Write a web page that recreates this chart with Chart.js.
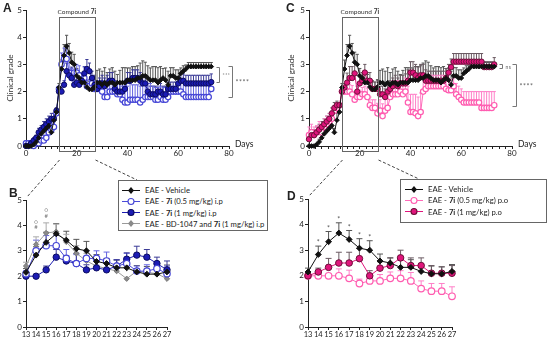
<!DOCTYPE html>
<html><head><meta charset="utf-8">
<script src="https://cdn.jsdelivr.net/npm/chart.js@4.4.1/dist/chart.umd.min.js"></script>
<style>
html,body{margin:0;padding:0;background:#fff;}
#wrap{position:relative;width:550px;height:340px;overflow:hidden;font-family:Lato,"Open Sans",sans-serif;color:#222;}
canvas.c{position:absolute;}
.t{position:absolute;white-space:nowrap;line-height:1;}
.lg{position:absolute;border:1px solid #666;background:#fff;box-sizing:border-box;}
.row{position:absolute;left:0;height:11px;font-size:7.7px;display:flex;align-items:center;white-space:nowrap;}
.row svg{margin-right:5px;}
.L{position:absolute;font-family:"Liberation Sans",Arial,sans-serif;font-weight:bold;font-size:12px;line-height:1;}
</style></head><body>
<div id="wrap">
<canvas id="cA" class="c" width="275" height="165" style="left:0;top:0;width:275px;height:165px"></canvas>
<canvas id="cC" class="c" width="275" height="165" style="left:275px;top:0;width:275px;height:165px"></canvas>
<canvas id="cB" class="c" width="275" height="170" style="left:0;top:170px;width:275px;height:170px"></canvas>
<canvas id="cD" class="c" width="275" height="170" style="left:275px;top:170px;width:275px;height:170px"></canvas>
<canvas id="ov" class="c" width="550" height="340" style="left:0;top:0;width:550px;height:340px;pointer-events:none"></canvas>
<div class="L" style="left:3px;top:2px">A</div>
<div class="L" style="left:9px;top:187px">B</div>
<div class="L" style="left:286px;top:2px">C</div>
<div class="L" style="left:287px;top:190px">D</div>
</div>
<script>
// ---------- DATA ----------
const daysAC = [0,1,2,3,4,5,6,7,8,9,10,11,12,13,14,15,16,17,18,19,20,21,22,23,24,25,26,27,28,29,30,31,32,33,34,35,36,37,38,39,40,41,42,43,44,45,46,47,48,49,50,51,52,53,54,55,56,57,58,59,60,61,62,63,64,65,66,67,68,69,70,71,72,73];
const daysBD = [13,14,15,16,17,18,19,20,21,22,23,24,25,26,27];

// EAE - Vehicle (mean, SEM)
const vehicle = [0,0,0,0.05,0.15,0.3,0.45,0.55,0.65,0.75,0.5,0.95,1.25, 2.15,2.83,3.33,3.67,3.42,3.08,3.0,2.58,2.5,2.33,2.33,2.17,2.08,2.08,2.17, 2.33,2.33,2.25,2.33,2.25,2.33,2.33,2.25,2.33,2.33,2.33,2.33, 2.42,2.42,2.42,2.42,2.5,2.5,2.58,2.58,2.5,2.42, 2.42,2.42,2.33,2.42,2.5,2.42,2.25,2.58,2.58,2.5, 2.5,2.67,2.75,2.83,2.92,2.92,2.92,2.92,2.92,2.92, 2.92,2.92,2.92,2.92];
const vehicleErr = [0,0,0,0.05,0.1,0.1,0.15,0.15,0.2,0.2,0.15,0.25,0.15, 0.15,0.33,0.4,0.4,0.35,0.37,0.37,0.27,0.2,0.3,0.3,0.25,0.3,0.27,0.27, 0.45,0.5,0.5,0.55,0.45,0.5,0.55,0.5,0.3,0.45,0.55,0.55, 0.45,0.45,0.5,0.5,0.45,0.55,0.55,0.5,0.45,0.45, 0.5,0.5,0.55,0.5,0.35,0.45,0.5,0.3,0.3,0.3, 0.3,0.2,0.2,0.15,0.15,0.15,0.15,0.15,0.15,0.15, 0.15,0.15,0.15,0.15];

// EAE - 7i (0.5 mg/kg) i.p
const ip05 = [0.1,0.1,0.1,0,0.1,0.1,0.2,0.2,0.3,0.5,0.6,0.7,1.2, 2.1,3.0,3.2,3.2,2.7,2.5,2.7,2.7,2.6,2.4,2.5,2.2,2.2,2.3,2.1, 2.1,2.1,2.0,1.8,1.8,2.0,2.0,2.0,1.9,1.9,1.7,1.6, 1.6,1.7,1.7,1.7,1.7,1.6,1.7,1.8,1.8,1.8, 1.8,1.7,1.7,1.8,1.7,1.7,1.8,2.0,2.0,2.0, 2.0,2.0,1.9,1.8,1.8,1.8,1.8,1.8,1.8,1.8, 1.8,1.8,1.8,2.1];
const ip05Err = [0.1,0.1,0.1,0,0.1,0.15,0.2,0.2,0.2,0.2,0.25,0.3,0.1, 0.1,0.42,0.4,0.4,0.35,0.35,0.3,0.3,0.35,0.25,0.4,0.2,0.25,0.2,0.3, 0.3,0.3,0.4,0.5,0.5,0.4,0.4,0.4,0.4,0.4,0.5,0.6, 0.6,0.6,0.55,0.55,0.55,0.6,0.55,0.5,0.5,0.5, 0.4,0.45,0.45,0.4,0.45,0.45,0.4,0.2,0.2,0.2, 0.3,0.3,0.4,0.5,0.5,0.5,0.5,0.5,0.5,0.5, 0.5,0.5,0.5,0.3];

// EAE - 7i (1 mg/kg) i.p
const ip1 = [0,0,0.1,0.2,0.3,0.5,0.6,0.7,0.8,0.9,1.0,1.0,1.3, 2.0,2.0,2.25,2.75,2.6,2.5,2.25,2.33,2.25,2.4,2.67,2.83,2.75,2.5,2.25, 2.1,2.2,2.3,2.2,2.3,2.4,2.4,2.1,2.0,2.0,2.0,2.1, 2.4,2.4,2.5,2.5,2.5,2.4,2.3,2.3,2.0,1.9, 1.9,1.9,2.0,2.0,1.9,1.9,2.1,2.1,2.1,2.1, 2.3,2.4,2.4,2.3,2.3,2.3,2.3,2.3,2.3,2.3, 2.3,2.3,2.3,2.35];
const ip1Err = [0,0,0.1,0.1,0.1,0.15,0.15,0.2,0.2,0.2,0.2,0.2,0.1, 0,0,0.15,0.3,0.2,0.4,0.2,0.3,0.3,0.25,0.25,0.35,0.3,0.25,0.35, 0.3,0.3,0.3,0.3,0.3,0.3,0.3,0.3,0.3,0.3,0.3,0.3, 0.3,0.3,0.3,0.3,0.3,0.3,0.3,0.3,0.3,0.3, 0.3,0.3,0.3,0.3,0.3,0.3,0.25,0.25,0.25,0.25, 0.25,0.25,0.25,0.3,0.3,0.3,0.3,0.3,0.3,0.3, 0.3,0.3,0.3,0.3];

// EAE - 7i (0.5 mg/kg) p.o
const po05 = [0.4,0.5,0.4,0.5,0.6,0.5,0.7,0.8,0.9,1.0,1.3,1.4,1.5, 2.0,2.0,2.0,2.0,1.9,1.7,1.8,1.8,1.9,1.9,1.8,1.5,1.4,1.4,1.2, 1.3,1.1,1.3,1.4,1.8,1.9,1.9,1.9,2.0,1.9,2.0,1.6, 1.25,1.25,1.2,1.1,1.25,2.0,2.1,2.2,2.2,2.2, 2.2,2.2,2.2,2.2,2.1,2.05,2.05,2.2,1.9,1.8, 1.7,1.6,1.6,1.6,1.6,1.6,1.6,1.6,1.4,1.4, 1.4,1.4,1.4,1.5];
const po05Err = [0.3,0.3,0.3,0.25,0.3,0.3,0.3,0.3,0.3,0.3,0.2,0.2,0.1, 0,0,0,0.27,0.32,0.17,0.17,0.25,0.25,0.3,0.33,0.3,0.3,0.3,0.37, 0.4,0.45,0.5,0.5,0.5,0.5,0.5,0.5,0.4,0.5,0.5,0.6, 0.65,0.65,0.7,0.7,0.7,0.5,0.5,0.4,0.4,0.4, 0.4,0.4,0.4,0.4,0.4,0.4,0.4,0.3,0.4,0.4, 0.4,0.4,0.4,0.4,0.4,0.4,0.4,0.4,0.6,0.6, 0.6,0.6,0.6,0.5];

// EAE - 7i (1 mg/kg) p.o
const po1 = [0.25,0.4,0.4,0.5,0.6,0.7,0.8,0.9,1.0,1.2,1.4,1.5,1.5, 2.0,2.15,2.33,2.5,2.5,2.67,2.0,2.3,2.4,2.7,2.4,2.4,2.1,2.1,2.1, 1.9,1.9,1.8,2.0,2.1,2.2,2.3,2.2,2.3,2.3,2.3,2.4, 2.7,2.7,2.6,2.5,2.6,2.6,2.4,2.4,2.4,2.4, 2.4,2.4,2.4,2.4,2.5,2.7,2.9,3.1,3.1,3.1, 3.1,3.1,3.1,3.1,3.1,3.1,3.1,3.1,3.1,2.9, 2.9,2.9,2.9,3.0];
const po1Err = [0.2,0.2,0.2,0.2,0.2,0.2,0.2,0.2,0.2,0.2,0.2,0.15,0.1, 0,0.15,0.35,0.42,0.42,0.4,0.2,0.25,0.3,0.3,0.3,0.3,0.3,0.25,0.3, 0.3,0.3,0.3,0.3,0.3,0.3,0.3,0.3,0.3,0.3,0.35,0.4, 0.4,0.4,0.4,0.4,0.4,0.4,0.4,0.35,0.35,0.35, 0.35,0.35,0.35,0.35,0.35,0.3,0.3,0.3,0.3,0.3, 0.3,0.3,0.3,0.3,0.3,0.3,0.3,0.3,0.3,0.2, 0.2,0.2,0.2,0.25];

// EAE - BD-1047 and 7i (1 mg/kg) i.p  (days 13-27)
const bd1047 = [2.4,3.25,3.7,3.75,3.35,2.9,2.6,2.4,2.3,2.2,1.9,2.2,2.15,2.1,1.9];
const bd1047Err = [0.15,0.3,0.4,0.3,0.3,0.3,0.3,0.3,0.2,0.2,0,0.1,0.1,0.1,0.1];

// significance marks
const sigB = [{d:14,v:4.15,t:'○'},{d:15,v:4.6,t:'○'},{d:14,v:3.92,t:'#'},{d:15,v:4.37,t:'#'}];
const sigD = [{d:14,v:3.32,t:'*'},{d:15,v:3.85,t:'*'},{d:16,v:4.2,t:'*'},{d:17,v:3.92,t:'*'},{d:18,v:3.58,t:'*'},{d:19,v:3.52,t:'*'}];
const boxDays = [13,27];
const boxTopValue = 4.75;
const bracketsA = [{xd:76,top:2.92,bot:2.35,t:'***',fs:5},{xd:81.2,top:2.95,bot:1.8,t:'****',fs:7}];
const bracketsC = [{xd:76,top:3.0,bot:2.85,t:'ns',fs:5},{xd:81.6,top:3.0,bot:1.48,t:'****',fs:7}];

// ---------- CHARTS ----------
const FONT = 'Lato, "Open Sans", sans-serif';
const sl = a => a.slice(13, 28);

const errorBars = {
  id: 'errorBars',
  beforeDatasetsDraw(chart, args, opts) {
    const ctx = chart.ctx, ys = chart.scales.y;
    chart.data.datasets.forEach((ds, di) => {
      if (!ds.errors) return;
      const meta = chart.getDatasetMeta(di);
      ctx.save();
      ctx.strokeStyle = ds.errColor || ds.borderColor;
      ctx.lineWidth = 1;
      meta.data.forEach((pt, i) => {
        const e = ds.errors[i];
        if (!e) return;
        const yt = ys.getPixelForValue(ds.data[i].y + e);
        ctx.beginPath();
        ctx.moveTo(pt.x, pt.y); ctx.lineTo(pt.x, yt);
        ctx.moveTo(pt.x - opts.cap, yt); ctx.lineTo(pt.x + opts.cap, yt);
        ctx.stroke();
      });
      ctx.restore();
    });
  }
};

const ST = {
  veh:  {borderColor:'#111', pointStyle:'rectRot', pointBackgroundColor:'#111', pointBorderColor:'#111', errColor:'#555'},
  ip05: {borderColor:'#4a4ad8', pointStyle:'circle', pointBackgroundColor:'#fff', pointBorderColor:'#4646d6', errColor:'#6464e0', pointBorderWidth:1.2},
  ip1:  {borderColor:'#1c1cb0', pointStyle:'circle', pointBackgroundColor:'#1c1cb4', pointBorderColor:'#0b0b60', errColor:'#3a3a96'},
  bd:   {borderColor:'#9a9a9a', pointStyle:'rectRot', pointBackgroundColor:'#8a8a8a', pointBorderColor:'#7a7a7a', errColor:'#aaa'},
  po05: {borderColor:'#ff6ab8', pointStyle:'circle', pointBackgroundColor:'#fff', pointBorderColor:'#ff5cb0', errColor:'#ff80c8', pointBorderWidth:1.2},
  po1:  {borderColor:'#e0157c', pointStyle:'circle', pointBackgroundColor:'#e0157c', pointBorderColor:'#6a1038', errColor:'#6a5a62'}
};

function ds(xs, ys, errs, st, r) {
  return Object.assign({
    data: xs.map((x, i) => ({x, y: ys[i]})), errors: errs, clip: false,
    borderWidth: 1, tension: 0, pointRadius: r
  }, st, {pointRadius: st.pointStyle === 'rectRot' ? r * 0.95 : r});
}

function scaleX(min, max, step, every, h, fs) {
  return {
    type: 'linear', min, max,
    ticks: {stepSize: step, autoSkip: false, maxRotation: 0, minRotation: 0, padding: 0, color: '#222',
      font: {family: FONT, size: fs},
      callback: v => (Math.abs(v / every - Math.round(v / every)) < 1e-6 ? v : '')},
    grid: {drawOnChartArea: false, drawTicks: true, tickLength: 3, color: '#222', lineWidth: 1},
    border: {color: '#222', width: 1},
    afterFit: s => { s.height = h; }
  };
}
function scaleY(w) {
  return {
    type: 'linear', min: 0, max: 5,
    ticks: {stepSize: 1, padding: 1, color: '#222', font: {family: FONT, size: 8}},
    grid: {drawOnChartArea: false, drawTicks: true, tickLength: 3, color: '#222', lineWidth: 1},
    border: {color: '#222', width: 1},
    afterFit: s => { s.width = w; }
  };
}
function mk(id, datasets, pad, yW, xs, cap) {
  return new Chart(document.getElementById(id), {
    type: 'line',
    data: {datasets},
    options: {
      responsive: false, animation: false, events: [],
      layout: {padding: pad},
      plugins: {legend: {display: false}, tooltip: {enabled: false}, errorBars: {cap}},
      scales: {x: xs, y: scaleY(yW)}
    },
    plugins: [errorBars]
  });
}

const chA = mk('cA', [
  ds(daysAC, vehicle, vehicleErr, ST.veh, 2.5),
  ds(daysAC, ip1, ip1Err, ST.ip1, 2.7),
  ds(daysAC, ip05, ip05Err, ST.ip05, 2.7)
], {left: 0, top: 10, right: 46, bottom: 0}, 26, scaleX(0, 80, 2.5, 20, 19, 8), 1.6);

const chC = mk('cC', [
  ds(daysAC, vehicle, vehicleErr, ST.veh, 2.5),
  ds(daysAC, po1, po1Err, ST.po1, 2.7),
  ds(daysAC, po05, po05Err, ST.po05, 2.7)
], {left: 8, top: 10, right: 38, bottom: 0}, 26, scaleX(0, 80, 2.5, 20, 19, 8), 1.6);

const chB = mk('cB', [
  ds(daysBD, sl(vehicle), sl(vehicleErr), ST.veh, 3.1),
  ds(daysBD, sl(ip05), sl(ip05Err), ST.ip05, 3.2),
  ds(daysBD, sl(ip1), sl(ip1Err), ST.ip1, 3.2),
  ds(daysBD, bd1047, bd1047Err, ST.bd, 2.8)
], {left: 0, top: 30, right: 108, bottom: 0}, 26, scaleX(13, 27, 1, 1, 13, 7.5), 3);

const chD = mk('cD', [
  ds(daysBD, sl(vehicle), sl(vehicleErr), ST.veh, 3.1),
  ds(daysBD, sl(po1), sl(po1Err), ST.po1, 3.3),
  ds(daysBD, sl(po05), sl(po05Err), ST.po05, 3.3)
], {left: 7, top: 29, right: 98, bottom: 0}, 26, scaleX(13, 27, 1, 1, 13, 7.5), 3);

// ---------- page-coordinate helpers ----------
function P(ch, L, T) {
  return {x: v => L + ch.scales.x.getPixelForValue(v), y: v => T + ch.scales.y.getPixelForValue(v)};
}
const pA = P(chA, 0, 0), pC = P(chC, 275, 0), pB = P(chB, 0, 170), pD = P(chD, 275, 170);
const wrap = document.getElementById('wrap');
function txt(s, x, y, css, tf) {
  const d = document.createElement('div');
  d.className = 't'; d.innerHTML = s;
  Object.assign(d.style, css || {});
  d.style.left = x + 'px'; d.style.top = y + 'px';
  d.style.transform = tf || 'translate(0,-50%)';
  wrap.appendChild(d);
  return d;
}

// axis labels
txt('Clinical grade', 10, pA.y(2.5), {fontSize: '8px', color: '#333'}, 'translate(-50%,-50%) rotate(-90deg)');
txt('Clinical grade', 291, pC.y(2.5), {fontSize: '8px', color: '#333'}, 'translate(-50%,-50%) rotate(-90deg)');
txt('Days', pA.x(80) + 6, pA.y(0) - 2, {fontSize: '8.5px', color: '#222'});
txt('Days', pC.x(80) + 6, pC.y(0) - 2, {fontSize: '8.5px', color: '#222'});
[pA, pC].forEach(p => {
  txt('Compound <b>7i</b>', (p.x(boxDays[0]) + p.x(boxDays[1])) / 2, p.y(boxTopValue) - 5,
      {fontSize: '6.5px', color: '#333'}, 'translate(-50%,-50%)');
});
sigB.forEach(s => txt(s.t, pB.x(s.d), pB.y(s.v), {fontSize: '6px', color: '#777'}, 'translate(-50%,-50%)'));
sigD.forEach(s => txt(s.t, pD.x(s.d), pD.y(s.v), {fontSize: '7px', color: '#555'}, 'translate(-50%,-50%)'));

// ---------- overlay: box, dashed zoom lines, brackets ----------
const ov = document.getElementById('ov').getContext('2d');
function seg(x1, y1, x2, y2) { ov.beginPath(); ov.moveTo(x1, y1); ov.lineTo(x2, y2); ov.stroke(); }
const R = v => Math.round(v) + 0.5;
ov.strokeStyle = '#555'; ov.lineWidth = 1;
const legB = {l: 118, t: 180, w: 150, h: 51};
const legD = {l: 400, t: 179, w: 147, h: 44};
[[pA, pB, legB], [pC, pD, legD]].forEach(([p, q, lg]) => {
  const l = R(p.x(boxDays[0])), r = R(p.x(boxDays[1])), t = R(p.y(boxTopValue)), b = R(p.y(0) + 5);
  ov.setLineDash([]);
  ov.strokeStyle = '#666';
  ov.strokeRect(l, t, r - l, b - t);
  ov.setLineDash([3, 2]);
  ov.strokeStyle = '#444';
  seg(l, p.y(0) + 14, q.x(boxDays[0]) + 1, q.y(5) - 3);
  seg(r, p.y(0) + 14, lg.l + 19, lg.t);
});
ov.setLineDash([]);
ov.strokeStyle = '#777';
[[pA, bracketsA], [pC, bracketsC]].forEach(([p, list]) => {
  list.forEach(bk => {
    const x = R(p.x(bk.xd)), t = R(p.y(bk.top)), b = R(p.y(bk.bot));
    const w = bk.fs > 6 ? 4 : 3;
    seg(x, t, x, b); seg(x - w, t, x, t); seg(x - w, b, x, b);
    txt(bk.t, x + 3, (t + b) / 2, {fontSize: bk.fs + 'px', color: '#666', letterSpacing: '0.5px'});
  });
});

// ---------- legends ----------
function sym(st) {
  let m = '';
  if (st.pointStyle === 'rectRot') m = `<polygon points="9,1 12,4.5 9,8 6,4.5" fill="${st.pointBackgroundColor}"/>`;
  else m = `<circle cx="9" cy="4.5" r="3" fill="${st.pointBackgroundColor}" stroke="${st.pointBorderColor}" stroke-width="1.1"/>`;
  return `<svg width="18" height="9" viewBox="0 0 18 9"><line x1="0" y1="4.5" x2="18" y2="4.5" stroke="${st.borderColor}" stroke-width="1"/>${m}</svg>`;
}
function legend(box, rows, pl) {
  const d = document.createElement('div');
  d.className = 'lg';
  Object.assign(d.style, {left: box.l + 'px', top: box.t + 'px', width: box.w + 'px', height: box.h + 'px'});
  rows.forEach((r, i) => {
    const row = document.createElement('div');
    row.className = 'row';
    row.style.top = (3.5 + i * 11.3) + 'px';
    row.style.left = pl + 'px';
    row.innerHTML = sym(r[0]) + '<span>' + r[1] + '</span>';
    d.appendChild(row);
  });
  wrap.appendChild(d);
}
legend(legB, [
  [ST.veh, 'EAE - Vehicle'],
  [ST.ip05, 'EAE - <b>7i</b> (0.5 mg/kg) i.p'],
  [ST.ip1, 'EAE - <b>7i</b> (1 mg/kg) i.p'],
  [ST.bd, 'EAE - BD-1047 and <b>7i</b> (1 mg/kg) i.p']
], 3);
legend(legD, [
  [ST.veh, 'EAE - Vehicle'],
  [ST.po05, 'EAE - <b>7i</b> (0.5 mg/kg) p.o'],
  [ST.po1, 'EAE - <b>7i</b> (1 mg/kg) p.o']
], 4);
</script>
</body></html>
